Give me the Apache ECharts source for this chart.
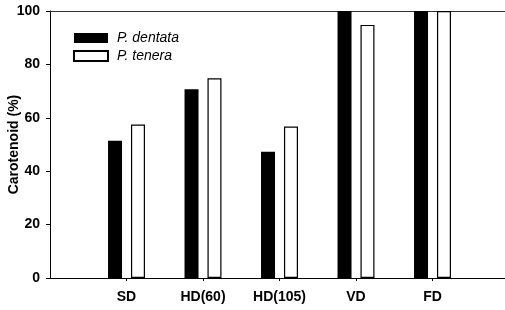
<!DOCTYPE html>
<html>
<head>
<meta charset="utf-8">
<script src="https://cdn.jsdelivr.net/npm/echarts@6/dist/echarts.min.js"></script>
<style>
  html, body { margin: 0; padding: 0; background: #fff; }
  #chart { width: 505px; height: 310px; }
</style>
</head>
<body>
<div id="chart"></div>
<script>
// treatments along the x axis
const categories = ['SD', 'HD(60)', 'HD(105)', 'VD', 'FD']
// carotenoid remaining (%)
const dentata = [51.4, 70.7, 47.3, 100, 100]
const tenera = [57.5, 74.8, 56.7, 94.8, 100]
const yTicks = [0, 20, 40, 60, 80, 100]

// one empty slot on each side, like the original plot
const axisData = [''].concat(categories, [''])
const pad = arr => [null].concat(arr, [null])

const chart = echarts.init(document.getElementById('chart'))
const font = 'Liberation Sans, Arial, sans-serif'

chart.setOption({
  animation: false,
  backgroundColor: '#fff',
  textStyle: { fontFamily: font },
  grid: { left: 50, right: -4, top: 11, bottom: 32, containLabel: false, outerBoundsMode: 'none' },
  legend: {
    orient: 'vertical',
    left: 73,
    top: 31,
    padding: 0,
    itemWidth: 34,
    itemHeight: 10,
    itemGap: 4,
    icon: 'rect',
    textStyle: { fontFamily: font, fontSize: 14, fontStyle: 'italic', color: '#000', padding: [0, 0, 0, 4] },
    data: ['P. dentata', 'P. tenera']
  },
  xAxis: [
    {
      type: 'category',
      data: axisData,
      boundaryGap: false,
      axisLine: { lineStyle: { color: '#000', width: 1 } },
      axisTick: {
        length: 3,
        interval: (i) => i > 0 && i < axisData.length - 1,
        lineStyle: { color: '#000' }
      },
      axisLabel: {
        interval: 0,
        margin: 12,
        color: '#000',
        fontWeight: 'bold',
        fontSize: 14,
        fontFamily: font
      }
    },
    {
      type: 'category',
      position: 'top',
      data: axisData,
      boundaryGap: false,
      axisLine: { show: true, lineStyle: { color: '#333', width: 1 } },
      axisTick: { show: false },
      axisLabel: { show: false }
    }
  ],
  yAxis: {
    type: 'value',
    min: yTicks[0],
    max: yTicks[yTicks.length - 1],
    interval: 20,
    name: 'Carotenoid (%)',
    nameLocation: 'middle',
    nameGap: 29,
    nameMoveOverlap: false,
    nameTextStyle: { fontWeight: 'bold', fontSize: 14, color: '#000', fontFamily: font },
    axisLine: { show: true, lineStyle: { color: '#000', width: 1 } },
    axisTick: { show: true, length: 4, lineStyle: { color: '#000' } },
    splitLine: { show: false },
    axisLabel: {
      margin: 10,
      color: '#000',
      fontWeight: 'bold',
      fontSize: 14,
      fontFamily: font
    }
  },
  series: [
    {
      name: 'P. dentata',
      type: 'bar',
      data: pad(dentata),
      barWidth: 14,
      barGap: '64%',
      itemStyle: { color: '#000' }
    },
    {
      name: 'P. tenera',
      type: 'bar',
      data: pad(tenera),
      barWidth: 14,
      itemStyle: { color: '#fff', borderColor: '#000', borderWidth: 1.2 }
    }
  ]
})
</script>
</body>
</html>
